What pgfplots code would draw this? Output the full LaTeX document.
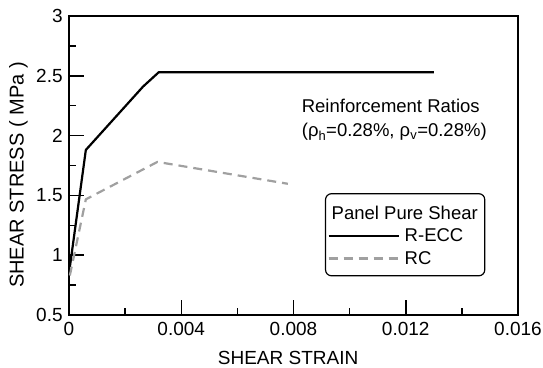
\documentclass[border=0pt]{standalone}
\usepackage{fontspec}
\setmainfont{Liberation Sans}
\usepackage{pgfplots}
\pgfplotsset{compat=1.18}
\definecolor{rcgray}{RGB}{160,160,160}
\begin{document}
\fontsize{18.5}{22}\selectfont
\begin{tikzpicture}
\begin{axis}[
  scale only axis, width=449pt, height=299pt,
  at={(0,0)}, anchor=south west,
  xmin=0, xmax=0.016, ymin=0.5, ymax=3,
  tick pos=left, tick align=inside,
  xtick={0,0.004,0.008,0.012,0.016},
  minor xtick={0.002,0.006,0.010,0.014},
  ytick={0.5,1,1.5,2,2.5,3},
  minor ytick={0.75,1.25,1.75,2.25,2.75},
  scaled x ticks=false,
  xticklabels={0,0.004,0.008,0.012,0.016},
  yticklabels={0.5,1,1.5,2,2.5,3},
  major tick length=15pt, minor tick length=7.5pt,
  axis line style={line width=1.5pt},
  every tick/.style={line width=1.5pt, black},
  tick label style={font=\fontsize{19}{22}\selectfont},
  x tick label style={yshift=-1pt},
  xlabel={SHEAR STRAIN},
  ylabel={SHEAR STRESS ( MPa )},
  xlabel style={font=\fontsize{19}{22}\selectfont, at={(axis description cs:0.488,0)}, anchor=north, inner sep=0pt, yshift=-36pt},
  ylabel style={font=\fontsize{20}{22}\selectfont, at={(axis description cs:0,0.468)}, anchor=center, inner sep=0pt, yshift=50.5pt},
  legend style={at={(axis description cs:0.570,0.4077)}, anchor=north west,
    draw=black, line width=1.2pt, rounded corners=6pt,
    inner xsep=2pt, inner ysep=6pt,
    nodes={inner xsep=5pt, inner ysep=1.35pt, text height=16pt, text depth=4pt},
    row sep=0pt,
    font=\fontsize{18.5}{22}\selectfont},
  legend cell align=left,
  legend image code/.code={\draw[#1, rounded corners=0pt] (0pt,0pt) -- (70pt,0pt);},
]
\addlegendimage{empty legend}
\addlegendentry[text height=18pt]{\hspace*{-73pt}Panel Pure Shear}
\addplot[black, line width=2.2pt, line join=round] coordinates {
  (0.00003,0.90) (0.0006,1.88) (0.00264,2.41) (0.0032,2.53) (0.0130,2.53)
};
\addlegendentry{R-ECC}
\addplot[rcgray, line width=2.2pt, dash pattern=on 9pt off 6pt, line join=round] coordinates {
  (0.00003,0.83) (0.0006,1.467) (0.00315,1.78) (0.0078,1.597)
};
\addlegendentry{RC}
\node[anchor=base west, inner sep=0pt, font=\fontsize{18.5}{22}\selectfont] at (axis cs:0.00829,2.189) {Reinforcement Ratios};
\node[anchor=base west, inner sep=0pt, font=\fontsize{18.5}{22}\selectfont] at (axis cs:0.00829,1.989) {(ρ\textsubscript{h}=0.28\%, ρ\textsubscript{v}=0.28\%)};
\end{axis}
\pgfresetboundingbox
\path (-69pt,-52pt) rectangle (474pt,315pt);
\end{tikzpicture}
\end{document}
